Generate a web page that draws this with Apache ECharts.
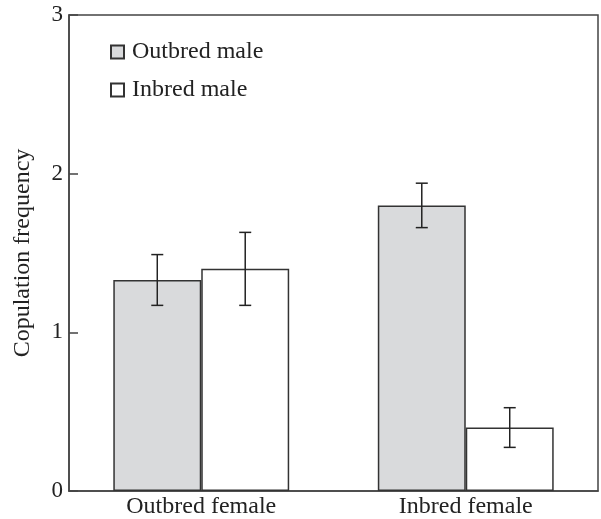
<!DOCTYPE html>
<html><head><meta charset="utf-8">
<script src="https://cdn.jsdelivr.net/npm/echarts@6/dist/echarts.min.js"></script>
<style>html,body{margin:0;padding:0;background:#fff}#c{width:601px;height:519px}</style>
</head><body><div id="c"></div>
<script>
var categories = ['Outbred female', 'Inbred female'];
var seriesNames = ['Outbred male', 'Inbred male'];
var outbredMale = [1.33, 1.80];
var outbredMaleErr = [0.16, 0.14];
var inbredMale = [1.40, 0.40];
var inbredMaleErr = [0.23, 0.125];
var yTicks = [0, 1, 2, 3];

var FONT = '"Liberation Serif", "DejaVu Serif", serif';
var chart = echarts.init(document.getElementById('c'), null, {renderer: 'canvas'});
var CAT_GAP = 0.335;
function errSeries(vals, errs, side) {
  return {
    type: 'custom',
    z: 10,
    silent: true,
    data: vals.map(function (v, i) { return [i, v - errs[i], v + errs[i]]; }),
    encode: {x: 0, y: [1, 2]},
    renderItem: function (params, api) {
      var band = api.size([1, 0])[0];
      var barW = band * (1 - CAT_GAP) / 2;
      var off = side * barW / 2;
      var lo = api.coord([api.value(0), api.value(1)]);
      var hi = api.coord([api.value(0), api.value(2)]);
      var x = lo[0] + off;
      var cap = 6;
      var st = {stroke: '#222', lineWidth: 1.5, fill: null};
      return {type: 'group', children: [
        {type: 'line', shape: {x1: x, y1: lo[1], x2: x, y2: hi[1]}, style: st},
        {type: 'line', shape: {x1: x - cap, y1: lo[1], x2: x + cap, y2: lo[1]}, style: st},
        {type: 'line', shape: {x1: x - cap, y1: hi[1], x2: x + cap, y2: hi[1]}, style: st}
      ]};
    }
  };
}
chart.setOption({
  animation: false,
  backgroundColor: '#fff',
  grid: {left: 69, right: 3, top: 15, bottom: 28, show: true, borderColor: '#444', borderWidth: 1.5, backgroundColor: 'transparent'},
  legend: {
    orient: 'vertical', left: 105, top: 35, itemGap: 14,
    icon: 'rect', itemWidth: 13, itemHeight: 13,
    data: seriesNames,
    textStyle: {fontFamily: FONT, fontSize: 24, color: '#222', padding: [0, 0, 0, 3]}
  },
  xAxis: {
    type: 'category', data: categories,
    axisLine: {lineStyle: {color: '#444', width: 1.5}},
    axisTick: {show: false},
    axisLabel: {fontFamily: FONT, fontSize: 24, color: '#222', margin: 4}
  },
  yAxis: {
    type: 'value', min: yTicks[0], max: yTicks[yTicks.length - 1], interval: 1,
    name: 'Copulation frequency', nameLocation: 'middle', nameGap: 34,
    nameTextStyle: {fontFamily: FONT, fontSize: 24, color: '#222'},
    axisLine: {show: true, lineStyle: {color: '#444', width: 1.5}},
    axisTick: {show: true, inside: true, length: 9, lineStyle: {color: '#444', width: 1.5}},
    splitLine: {show: false},
    axisLabel: {fontFamily: FONT, fontSize: 23, color: '#222', margin: 6}
  },
  series: [
    {name: seriesNames[0], type: 'bar', data: outbredMale, barGap: '0%', barCategoryGap: (CAT_GAP * 100) + '%',
     itemStyle: {color: '#d9dadc', borderColor: '#333', borderWidth: 1.5}},
    {name: seriesNames[1], type: 'bar', data: inbredMale, barGap: '0%', barCategoryGap: (CAT_GAP * 100) + '%',
     itemStyle: {color: '#ffffff', borderColor: '#333', borderWidth: 1.5}},
    errSeries(outbredMale, outbredMaleErr, -1),
    errSeries(inbredMale, inbredMaleErr, 1)
  ]
});
</script></body></html>
